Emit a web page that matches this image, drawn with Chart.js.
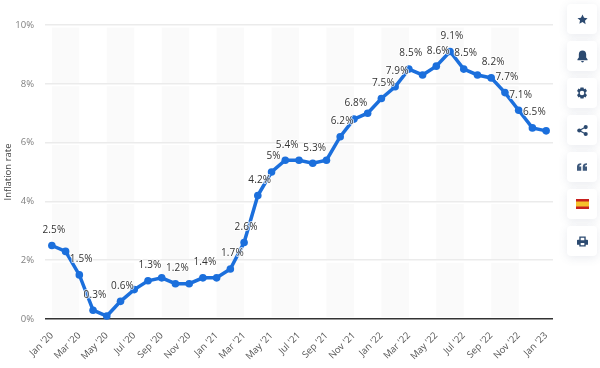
<!DOCTYPE html>
<html>
<head>
<meta charset="utf-8">
<script src="https://cdn.jsdelivr.net/npm/chart.js@4"></script>
<style>
html,body{margin:0;padding:0;background:#fff;width:600px;height:368px;overflow:hidden;font-family:"Open Sans",sans-serif}
#wrap{position:absolute;left:0;top:0;width:600px;height:368px}
.btn{position:absolute;left:567px;width:30px;height:30px;background:#fff;border-radius:4px;box-shadow:0 2px 10px rgba(70,90,120,.12);display:flex;align-items:center;justify-content:center}
.btn svg{display:block}
</style>
</head>
<body>
<div id="wrap"><canvas id="c" width="600" height="368"></canvas></div>
<div class="btn" style="top:4px"><svg width="11" height="11" viewBox="0 0 24 24"><path fill="#2c4a70" d="M12 1l3.4 7.2 7.6 1-5.6 5.4 1.4 7.8L12 17.7l-6.8 3.7 1.4-7.8L1 9.200l7.600-1z"/></svg></div>
<div class="btn" style="top:41px"><svg width="11" height="13" viewBox="0 0 24 28"><path fill="#2c4a70" d="M12 1c-5 0-8 3.500-8 8v7l-3 4v2h22v-2l-3-4V9c0-4.500-3-8-8-8zM9 24a3 3 0 0 0 6 0z"/></svg></div>
<div class="btn" style="top:78px"><svg width="12" height="12" viewBox="0 0 24 24"><path fill="#2c4a70" fill-rule="evenodd" d="M9 1h6l1 3.500 3-1.500 3 5-2.800 2.300v3.400L22 16l-3 5-3-1.500L15 23H9l-1-3.500L5 21l-3-5 2.800-2.300v-3.400L2 8l3-5 3 1.500zM12 7.500a4.500 4.500 0 1 0 0 9 4.500 4.500 0 0 0 0-9z"/></svg></div>
<div class="btn" style="top:115px"><svg width="11" height="11" viewBox="0 0 24 24"><g fill="#2c4a70"><circle cx="19" cy="4.500" r="4.500"/><circle cx="5" cy="12" r="4.500"/><circle cx="19" cy="19.500" r="4.500"/></g><path stroke="#2c4a70" stroke-width="2.500" fill="none" d="M19 4.500L5 12l14 7.500"/></svg></div>
<div class="btn" style="top:152px"><svg width="10" height="8" viewBox="0 0 26 20"><path fill="#3f5a7d" d="M11 0v4C7 4 6 6 6 9h5v11H0V9C0 3 4 0 11 0zM26 0v4c-4 0-5 2-5 5h5v11H15V9c0-6 4-9 11-9z"/></svg></div>
<div class="btn" style="top:189px"><svg width="13" height="10" viewBox="0 0 13 10"><rect width="13" height="10" fill="#c8201e"/><rect y="2.500" width="13" height="5" fill="#f6c12c"/></svg></div>
<div class="btn" style="top:226px"><svg width="11" height="11" viewBox="0 0 24 24"><path fill="#2c4a70" fill-rule="evenodd" d="M5 1h14v7h3a2 2 0 0 1 2 2v9h-5v4H5v-4H0v-9a2 2 0 0 1 2-2h3zM8 4v5h8V4zM8 15v5h8v-5z"/></svg></div>
<script>
const categories = ["Jan '20","Feb '20","Mar '20","Apr '20","May '20","Jun '20","Jul '20","Aug '20","Sep '20","Oct '20","Nov '20","Dec '20","Jan '21","Feb '21","Mar '21","Apr '21","May '21","Jun '21","Jul '21","Aug '21","Sep '21","Oct '21","Nov '21","Dec '21","Jan '22","Feb '22","Mar '22","Apr '22","May '22","Jun '22","Jul '22","Aug '22","Sep '22","Oct '22","Nov '22","Dec '22","Jan '23"];
const inflation = [2.5,2.3,1.5,0.3,0.1,0.6,1.0,1.3,1.4,1.2,1.2,1.4,1.4,1.7,2.6,4.2,5,5.4,5.4,5.3,5.4,6.2,6.8,7,7.5,7.9,8.5,8.3,8.6,9.1,8.5,8.3,8.2,7.7,7.1,6.5,6.4];
const labelledMonths = ["Jan '20","Mar '20","Apr '20","Jun '20","Aug '20","Oct '20","Dec '20","Feb '21","Mar '21","Apr '21","May '21","Jun '21","Aug '21","Oct '21","Nov '21","Jan '22","Feb '22","Mar '22","May '22","Jun '22","Jul '22","Sep '22","Oct '22","Nov '22","Dec '22"];
const yTicks = [0,2,4,6,8,10];
const yTitle = "Inflation rate";

const bandsPlugin = {
  id:'bands',
  beforeDraw(chart){
    const {ctx,chartArea:a,scales:{x,y}}=chart;
    ctx.save();
    ctx.fillStyle='#fafafa';
    for(let i=0;i<categories.length-1;i+=4){
      const l=x.getPixelForValue(i), r=x.getPixelForValue(i+2);
      ctx.fillRect(l,a.top+1,r-l,y.getPixelForValue(0)-a.top-3);
    }
    ctx.fillStyle='#fff';
    yTicks.forEach(t=>{ if(t>0) ctx.fillRect(a.left,y.getPixelForValue(t),a.right-a.left,2.5); });
    ctx.restore();
  }
};
const valueLabels = {
  id:'valueLabels',
  afterDatasetsDraw(chart){
    const {ctx}=chart; const meta=chart.getDatasetMeta(0);
    ctx.save();
    ctx.font='10px "Open Sans"';
    ctx.textAlign='center'; ctx.textBaseline='middle';
    ctx.letterSpacing='0.15px';
    categories.forEach((c,i)=>{
      if(!labelledMonths.includes(c)) return;
      const p=meta.data[i];
      const s=inflation[i]+'%';
      const lx=p.x+2, ly=p.y-15.5;
      ctx.lineWidth=2; ctx.strokeStyle='rgba(255,255,255,.7)'; ctx.lineJoin='round';
      ctx.strokeText(s,lx,ly);
      ctx.fillStyle='#333';
      ctx.fillText(s,lx,ly);
    });
    ctx.restore();
  }
};

new Chart(document.getElementById('c'),{
  type:'line',
  data:{labels:categories,datasets:[{data:inflation,borderColor:'#1b6fdc',backgroundColor:'#1b6fdc',borderWidth:3.5,pointRadius:3.8,pointBackgroundColor:'#1b6fdc',pointBorderWidth:0,tension:0,clip:false}]},
  plugins:[bandsPlugin,valueLabels],
  options:{
    responsive:false,animation:false,
    layout:{padding:{left:0,right:47,top:25,bottom:0}},
    plugins:{legend:{display:false},tooltip:{enabled:false}},
    scales:{
      x:{type:'category',offset:true,
        grid:{display:false},
        border:{display:false},
        ticks:{autoSkip:false,minRotation:45,maxRotation:45,padding:3,color:'#555',font:{family:'"Open Sans"',size:9.5},
          callback(v,i){return i%2===0?categories[i]:'';}},
        afterFit(s){s.height=49;}
      },
      y:{min:0,max:10,
        afterFit(s){s.width=45;},
        afterBuildTicks(s){s.ticks=yTicks.map(v=>({value:v}));},
        grid:{color(c){return c.tick.value===0?'#333':'#ebebeb';},lineWidth(c){return c.tick.value===0?1.5:1.5;},drawTicks:false},
        border:{display:false},
        title:{display:true,text:yTitle,color:'#444',font:{family:'"Open Sans"',size:9.5},padding:{top:3,bottom:0}},
        ticks:{color:'#808080',padding:11,font:{family:'"Open Sans"',size:9.5},callback(v){return v+'%';}}
      }
    }
  }
});
</script>
</body>
</html>
